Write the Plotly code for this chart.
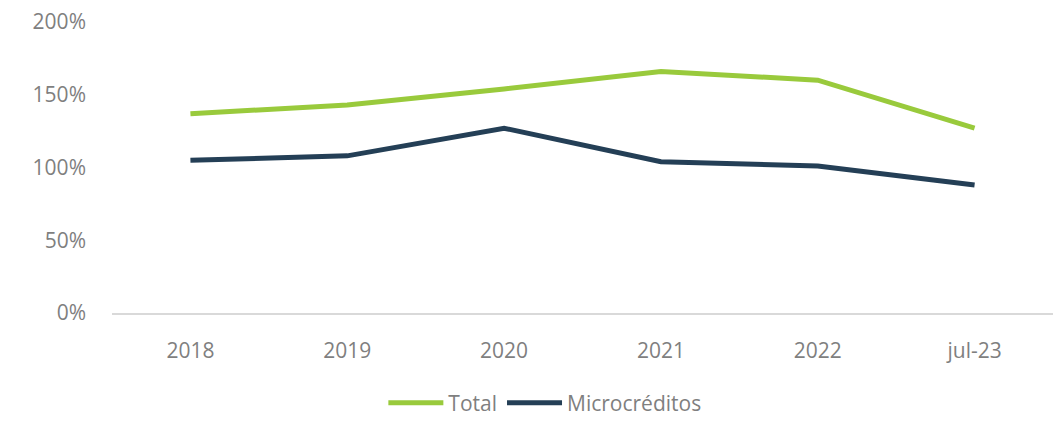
import plotly.graph_objects as go

categorias = ['2018', '2019', '2020', '2021', '2022', 'jul-23']
total = [137, 143, 154, 166, 160, 127]
microcreditos = [105, 108, 127, 104, 101, 88]
y_ticks = [0, 50, 100, 150, 200]
y_labels = ['0%', '50%', '100%', '150%', '200%']

fig = go.Figure()

fig.add_trace(go.Scatter(
    x=categorias,
    y=total,
    name='Total',
    mode='lines',
    line=dict(color='#99CA3C', width=5),
))
fig.add_trace(go.Scatter(
    x=categorias,
    y=microcreditos,
    name='Microcréditos',
    mode='lines',
    line=dict(color='#243F56', width=5),
))

fig.update_layout(
    width=1061,
    height=421,
    margin=dict(l=112, r=8, t=22, b=108, autoexpand=False),
    plot_bgcolor='white',
    paper_bgcolor='white',
    font=dict(family='Open Sans, sans-serif', size=21, color='#7F7F7F'),
    xaxis=dict(
        type='category',
        range=[-0.5, 5.5],
        showgrid=False,
        showline=True,
        linecolor='#D9D9D9',
        linewidth=1.5,
        ticks='',
        ticklabelstandoff=18,
    ),
    yaxis=dict(
        range=[0, 200],
        tickvals=y_ticks,
        ticktext=y_labels,
        showgrid=False,
        zeroline=False,
        showline=False,
        ticklabelstandoff=25,
    ),
    legend=dict(
        orientation='h',
        x=0.46,
        xanchor='center',
        y=-0.31,
        yanchor='middle',
        font=dict(size=21),
        itemwidth=55,
    ),
)

# drop the default 8px body margin of the page
fig.write_html("out.html", config={'displayModeBar': False},
               post_script="document.body.style.margin='0';")
